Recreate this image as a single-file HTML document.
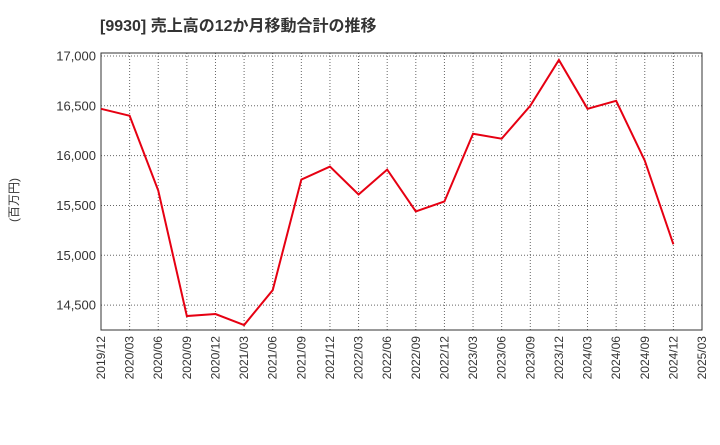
<!DOCTYPE html>
<html><head><meta charset="utf-8"><style>
body{margin:0;background:#fff;}
svg text{font-family:"Liberation Sans","Noto Sans CJK JP",sans-serif;}
</style></head><body>
<svg id="chart" width="720" height="440">
<text x="100" y="31" font-size="16" font-weight="bold" fill="#333">[9930]  売上高の12か月移動合計の推移</text>
<text x="0" y="0" font-size="12" fill="#333" transform="translate(18,200) rotate(-90)" text-anchor="middle">(百万円)</text>
<g id="grid"></g><g id="axes"></g><g id="series"></g>
</svg>
<script>
const categories=["2019/12","2020/03","2020/06","2020/09","2020/12","2021/03","2021/06","2021/09","2021/12","2022/03","2022/06","2022/09","2022/12","2023/03","2023/06","2023/09","2023/12","2024/03","2024/06","2024/09","2024/12","2025/03"];
const values=[16470,16400,15650,14390,14410,14300,14650,15760,15890,15610,15860,15440,15540,16220,16170,16500,16960,16470,16550,15950,15110];
const yTicks=[14500,15000,15500,16000,16500,17000];
const yTickLabels=["14,500","15,000","15,500","16,000","16,500","17,000"];
const L=101,R=702,T=53,B=330,yMin=14250,yMax=17030;
const ns="http://www.w3.org/2000/svg";
const x=i=>L+(R-L)*i/(categories.length-1);
const y=v=>B-(v-yMin)/(yMax-yMin)*(B-T);
function mk(t,a,p){const e=document.createElementNS(ns,t);for(const k in a)e.setAttribute(k,a[k]);p.appendChild(e);return e;}
const grid=document.getElementById('grid'),axes=document.getElementById('axes'),series=document.getElementById('series');
categories.forEach((c,i)=>{
 const g=mk('line',{x1:x(i),x2:x(i),y1:T,y2:B,stroke:'#666','stroke-dasharray':'1,2','stroke-width':1},grid);
 
 
 const t=mk('text',{x:0,y:0,'font-size':12,fill:'#333','text-anchor':'end',transform:`translate(${x(i)+4},${B+6}) rotate(-90)`},axes);
 t.textContent=c;
 
 
});
yTicks.forEach((v,i)=>{
 const g=mk('line',{x1:L,x2:R,y1:y(v),y2:y(v),stroke:'#666','stroke-dasharray':'1,2','stroke-width':1},grid);
 
 
 const t=mk('text',{x:L-5,y:y(v)+4.5,'font-size':13,fill:'#333','text-anchor':'end'},axes);
 t.textContent=yTickLabels[i];
 
 
});
const frame=mk('rect',{x:L,y:T,width:R-L,height:B-T,fill:'none',stroke:'#333','stroke-width':1},axes);


const line=mk('polyline',{points:values.map((v,i)=>x(i)+','+y(v)).join(' '),fill:'none',stroke:'#e60012','stroke-width':2},series);


</script>
</body></html>
